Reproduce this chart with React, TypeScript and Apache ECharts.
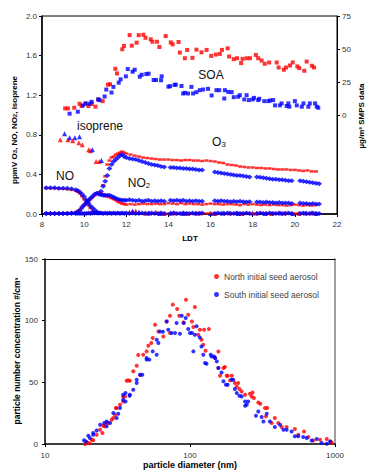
import { useEffect, useRef } from "react";
import * as echarts from "echarts";

const RED = "#FF0000";
const BLUE = "#0000FF";
const FONT = "'Liberation Sans', Arial, sans-serif";

// ---------- Top chart: SOA (right axis, µg/m3) ----------
const soaNorth: number[][] = [
  [9.10, 5.0], [9.23, 5.0], [9.53, 5.5], [9.78, 8.5], [9.88, 6.8], [10.07, 8.5], [10.20, 6.8], [10.37, 8.5], [10.54, 6.3],
  [10.67, 11.8], [10.88, 10.5], [11.13, 23], [11.23, 23.3], [11.48, 35], [11.56, 31.5], [11.81, 49.8], [11.89, 52.3],
  [12.16, 60.5], [12.26, 52.5], [12.49, 54.8], [12.59, 60.5], [12.81, 60.8], [12.91, 58.5], [13.16, 57.3], [13.24, 55.5],
  [13.46, 55.5], [13.57, 51.5], [13.87, 59.8], [14.11, 55], [14.2, 53.5], [14.48, 55.3], [14.54, 47.3], [14.78, 43],
  [14.89, 49.3], [15.14, 43.3], [15.33, 49.5], [15.57, 47.5], [15.81, 49.3], [16.03, 44.8], [16.25, 45.8], [16.44, 46.3],
  [16.54, 49.3], [16.81, 50.5], [16.88, 44.3], [17.1, 42.3], [17.26, 43], [17.45, 39.3], [17.52, 42.5], [17.71, 43],
  [17.87, 43], [18.15, 45.5], [18.26, 43], [18.42, 41.3], [18.57, 38.8], [18.78, 39.8], [19.14, 39.8], [19.23, 36],
  [19.48, 34.3], [19.58, 36], [19.77, 37.5], [19.9, 39.8], [20.12, 36.8], [20.21, 35.5], [20.45, 33.5], [20.56, 40.5],
  [20.81, 37.3], [20.91, 36],
];
const soaSouth: number[][] = [
  [9.31, 1.0], [9.70, 2.5], [9.94, 7.3], [10.07, 8.8], [10.26, 8.5], [10.35, 10], [10.67, 11.8], [10.73, 11.3], [10.97, 14],
  [11.05, 19.3], [11.30, 17], [11.39, 21.3], [11.64, 24.5], [11.73, 27], [11.98, 29.3], [12.07, 34.8], [12.30, 32.8],
  [12.40, 34.3], [12.64, 29], [12.73, 30.5], [12.95, 31], [13.06, 31.3], [13.30, 26.5], [13.41, 26.5], [13.65, 26.3],
  [13.68, 29.3], [14.0, 21.5], [14.08, 21.8], [14.29, 22.8], [14.35, 23], [14.62, 22], [14.70, 16.3], [14.78, 16.8],
  [14.93, 16.3], [15.09, 21.3], [15.17, 16.3], [15.33, 17.3], [15.49, 18.8], [15.65, 19.3], [15.88, 19.8], [16.05, 14.8],
  [16.28, 18.8], [16.41, 18.8], [16.65, 12.5], [16.68, 18.8], [16.84, 17.5], [17.0, 17.3], [17.1, 13.5], [17.31, 13.8],
  [17.39, 15], [17.6, 11.8], [17.71, 15], [17.82, 11.3], [18.0, 11.8], [18.06, 13], [18.26, 11.3], [18.31, 12.3],
  [18.55, 10.5], [18.74, 10.5], [18.83, 11], [18.97, 11.3], [19.06, 7.3], [19.29, 7.3], [19.37, 8.8], [19.61, 6.8],
  [19.69, 8.8], [19.74, 6.3], [20.0, 10.5], [20.09, 7.3], [20.33, 6.3], [20.41, 8.8], [20.64, 6.3], [20.71, 8.8],
  [20.96, 8.8], [21.04, 6.3], [21.11, 5.5],
];

// ---------- Top chart: isoprene (ppmV) ----------
const isopreneNorth: number[][] = [
  [8.87, 0.75], [9.23, 0.75], [9.46, 0.74], [9.75, 0.72], [9.91, 0.70], [10.22, 0.65], [10.3, 0.64], [10.57, 0.53], [10.72, 0.53],
  [12.15, 0.02], [12.45, 0.03], [12.9, 0.01], [13.4, 0.02], [13.8, 0.005], [14.3, 0.01], [14.9, 0.005], [15.5, 0.01],
  [16.2, 0.005], [16.9, 0.01], [17.5, 0.005], [18.2, 0.01], [18.9, 0.005], [19.5, 0.01], [20.2, 0.005], [20.8, 0.01],
];
const isopreneSouth: number[][] = [
  [9.07, 0.81], [9.31, 0.77], [9.56, 0.77], [9.78, 0.78], [10.39, 0.65], [10.82, 0.54],
  [12.3, 0.03], [12.6, 0.02], [13.1, 0.01], [13.6, 0.005], [14.1, 0.01], [14.7, 0.005], [15.3, 0.01], [16.0, 0.005],
  [16.6, 0.01], [17.3, 0.005], [18.0, 0.01], [18.6, 0.005], [19.3, 0.01], [19.9, 0.005], [20.5, 0.01], [21.0, 0.005],
];

// ---------- Top chart: O3 / NO / NO2, North (red) ----------
const timesNorth: number[] = [
  8.2, 8.4, 8.6, 8.8, 9.0, 9.2, 9.4, 9.6,
  9.7, 9.8, 9.9, 10.0, 10.1, 10.2, 10.3, 10.4, 10.5, 10.6, 10.7,
  10.8, 10.9, 11.0, 11.1, 11.2, 11.3, 11.4, 11.5, 11.6, 11.7, 11.8, 11.9, 12.0,
  12.2, 12.4, 12.6, 12.8, 13.0, 13.2, 13.4, 13.6, 13.8, 14.0, 14.2, 14.4, 14.6, 14.8, 15.0,
  15.2, 15.4, 15.6, 15.8, 16.0, 16.2, 16.4, 16.6, 16.8, 17.0, 17.2, 17.4, 17.6, 17.8, 18.0,
  18.2, 18.4, 18.6, 18.8, 19.0, 19.2, 19.4, 19.6, 19.8, 20.0, 20.2, 20.4, 20.6, 20.8, 21.0,
];
const o3North: number[] = [
  0.005, 0.005, 0.005, 0.005, 0.005, 0.005, 0.005, 0.005,
  0.005, 0.005, 0.005, 0.005, 0.005, 0.005, 0.01, 0.01, 0.01, 0.01, 0.01,
  0.2, 0.29, 0.38, 0.5, 0.54, 0.57, 0.58, 0.6, 0.61, 0.62, 0.63, 0.62, 0.61,
  0.6, 0.59, 0.58, 0.57, 0.565, 0.56, 0.555, 0.55, 0.55, 0.55, 0.545, 0.545, 0.54, 0.545, 0.545,
  0.54, 0.54, 0.535, 0.54, 0.535, 0.53, 0.52, 0.515, 0.5, 0.495, 0.49, 0.48, 0.475, 0.47, 0.47,
  0.465, 0.465, 0.46, 0.46, 0.455, 0.45, 0.45, 0.45, 0.445, 0.445, 0.44, 0.435, 0.44, 0.43, 0.43,
];
const noNorth: number[] = [
  0.26, 0.26, 0.26, 0.255, 0.255, 0.25, 0.245, 0.235,
  0.225, 0.21, 0.18, 0.15, 0.12, 0.09, 0.06, 0.03, 0.015, 0.01, 0.01,
  0.01, 0.01, 0.005, 0.01, 0.005, 0.01, 0.005, 0.01, 0.005, 0.01, 0.005, 0.01, 0.005,
  0.005, 0.01, 0.005, 0.005, 0.01, 0.005, 0.005, 0.01, 0.005, 0.005, 0.01, 0.005, 0.005, 0.01, 0.005,
  0.005, 0.01, 0.005, 0.005, 0.01, 0.005, 0.005, 0.01, 0.005, 0.005, 0.01, 0.005, 0.005, 0.01, 0.005,
  0.005, 0.01, 0.005, 0.005, 0.01, 0.005, 0.005, 0.01, 0.005, 0.005, 0.01, 0.005, 0.005, 0.01, 0.005,
];
const no2North: number[] = [
  0.005, 0.005, 0.005, 0.005, 0.005, 0.01, 0.01, 0.02,
  0.03, 0.04, 0.06, 0.09, 0.11, 0.13, 0.15, 0.17, 0.19, 0.21, 0.22,
  0.21, 0.2, 0.18, 0.18, 0.17, 0.16, 0.15, 0.14, 0.125, 0.115, 0.105, 0.1, 0.095,
  0.1, 0.095, 0.1, 0.105, 0.1, 0.1, 0.105, 0.1, 0.1, 0.11, 0.105, 0.1, 0.11, 0.1, 0.105,
  0.1, 0.1, 0.095, 0.1, 0.105, 0.1, 0.1, 0.095, 0.1, 0.1, 0.095, 0.09, 0.1, 0.095, 0.1,
  0.095, 0.09, 0.095, 0.09, 0.095, 0.09, 0.09, 0.085, 0.09, 0.095, 0.09, 0.085, 0.09, 0.085, 0.09,
];

// ---------- Top chart: O3 / NO / NO2, South (blue) ----------
const timesSouth: number[] = [
  8.2, 8.4, 8.6, 8.8, 9.0, 9.2, 9.4, 9.6,
  9.7, 9.8, 9.9, 10.0, 10.1, 10.2, 10.3, 10.4, 10.5, 10.6, 10.7,
  10.8, 10.9, 11.0, 11.1, 11.2, 11.3, 11.4, 11.5, 11.6, 11.7, 11.8, 11.9, 12.0,
  12.15, 12.3, 12.45, 12.6, 12.75, 12.9, 13.05, 13.2, 13.35, 13.5, 13.65, 13.8,
  14.1, 14.25, 14.4, 14.55, 14.7, 14.85, 15.0, 15.15, 15.3, 15.45, 15.6,
  16.2, 16.35, 16.5, 16.65, 16.8, 16.95, 17.1, 17.25, 17.4, 17.55, 17.7, 17.85,
  18.2, 18.35, 18.5, 18.65, 18.8, 18.95, 19.1, 19.25, 19.4, 19.55, 19.7, 19.85,
  20.25, 20.4, 20.55, 20.7, 20.85, 21.0, 21.15,
];
const o3South: number[] = [
  0.005, 0.005, 0.005, 0.005, 0.005, 0.005, 0.005, 0.005,
  0.005, 0.005, 0.005, 0.005, 0.005, 0.01, 0.005, 0.01, 0.01, 0.01, 0.01,
  0.23, 0.28, 0.33, 0.39, 0.46, 0.5, 0.53, 0.55, 0.57, 0.59, 0.6, 0.58, 0.57,
  0.56, 0.555, 0.55, 0.54, 0.53, 0.52, 0.51, 0.5, 0.495, 0.49, 0.48, 0.475,
  0.47, 0.47, 0.465, 0.465, 0.46, 0.46, 0.455, 0.455, 0.45, 0.445, 0.445,
  0.425, 0.42, 0.415, 0.41, 0.405, 0.4, 0.395, 0.39, 0.39, 0.385, 0.38, 0.375,
  0.375, 0.37, 0.365, 0.36, 0.355, 0.35, 0.35, 0.345, 0.345, 0.34, 0.335, 0.335,
  0.335, 0.33, 0.325, 0.32, 0.315, 0.31, 0.305,
];
const noSouth: number[] = [
  0.265, 0.265, 0.265, 0.26, 0.26, 0.26, 0.255, 0.245,
  0.235, 0.22, 0.2, 0.175, 0.14, 0.11, 0.08, 0.06, 0.04, 0.02, 0.01,
  0.01, 0.005, 0.01, 0.005, 0.01, 0.005, 0.01, 0.005, 0.01, 0.005, 0.01, 0.005, 0.01,
  0.005, 0.01, 0.005, 0.005, 0.01, 0.005, 0.005, 0.01, 0.005, 0.005, 0.01, 0.005,
  0.005, 0.01, 0.005, 0.005, 0.01, 0.005, 0.005, 0.01, 0.005, 0.005, 0.01,
  0.005, 0.01, 0.005, 0.005, 0.01, 0.005, 0.005, 0.01, 0.005, 0.005, 0.01, 0.005,
  0.005, 0.01, 0.005, 0.005, 0.01, 0.005, 0.005, 0.01, 0.005, 0.005, 0.01, 0.005,
  0.005, 0.01, 0.005, 0.005, 0.01, 0.005, 0.005,
];
const no2South: number[] = [
  0.005, 0.005, 0.005, 0.005, 0.005, 0.005, 0.01, 0.01,
  0.02, 0.04, 0.07, 0.09, 0.11, 0.14, 0.16, 0.18, 0.2, 0.21, 0.2,
  0.195, 0.19, 0.19, 0.19, 0.19, 0.18, 0.17, 0.16, 0.15, 0.145, 0.14, 0.14, 0.14,
  0.145, 0.14, 0.135, 0.14, 0.13, 0.135, 0.14, 0.13, 0.135, 0.13, 0.135, 0.13,
  0.14, 0.135, 0.14, 0.135, 0.14, 0.13, 0.135, 0.13, 0.135, 0.13, 0.13,
  0.135, 0.13, 0.135, 0.13, 0.13, 0.125, 0.13, 0.125, 0.13, 0.125, 0.12, 0.125,
  0.12, 0.12, 0.115, 0.12, 0.115, 0.115, 0.11, 0.115, 0.11, 0.11, 0.11, 0.105,
  0.11, 0.105, 0.105, 0.1, 0.105, 0.1, 0.1,
];

// ---------- Bottom chart: particle size distributions ----------
const northSizeDist: number[][] = [
  [18.9, 0], [19.6, 1], [20.3, 0.5], [21, 3.5], [21.5, 3], [22.7, 7.5], [24.0, 11.6], [24.9, 8.9], [25.2, 14.8], [25.8, 14.3],
  [26.6, 17], [27.3, 17], [28.8, 19.7], [29.6, 21.1], [30.4, 23.8], [30.8, 29.2], [31.2, 29.2], [32.9, 31.9], [34.6, 34.5],
  [34.6, 38.6], [35.6, 38.6], [36.6, 51.3], [37.5, 51.6], [38.5, 51.3], [40.6, 58.9], [42.9, 63.5], [43.9, 72.2], [45.5, 56],
  [47.6, 72.4], [50.2, 75.1], [51.6, 79.7], [54.1, 81.9], [55.3, 86], [57.4, 96.7], [60.5, 91.3], [65.5, 87.2], [69, 99.4],
  [72.8, 104], [72.8, 90], [76.1, 113], [81.6, 109.5], [84.3, 104], [90, 98.6], [93.8, 117], [97.3, 104.8], [103, 99.4],
  [105.5, 94.9], [108, 111], [114, 88.6], [117, 92.7], [120, 84.6], [123.5, 80.5], [125, 92.7], [128, 75.6], [135, 93.2],
  [149, 69.7], [157, 75], [157, 61.6], [161, 55.4], [170, 61.6], [174, 62.4], [179, 55.4], [182, 55.4], [189, 51.6],
  [194, 55.4], [204, 49.5], [210, 46.7], [215, 49.5], [219, 44.6], [227, 42.6], [240, 40], [259, 40.8], [266, 38.6],
  [270, 41.8], [276, 37.3], [296, 33.7], [305, 32.7], [329, 29.2], [334, 22.4], [341, 29.2], [366, 17], [385, 21.1],
  [406, 17], [429, 13.8], [464, 13.8], [529, 12.2], [558, 7.5], [611, 10.2], [654, 5.7], [708, 2.9], [788, 3.5],
  [877, 4.1], [934, 2.1], [950, 0.8],
];
const southSizeDist: number[][] = [
  [18.6, 3], [19.2, 2], [19.9, 6.7], [20.4, 4.9], [21.5, 7.5], [21.5, 8.9], [22.7, 11], [24.0, 15.6], [25.6, 17],
  [26.6, 18.3], [26.6, 14.3], [28.1, 17], [29.6, 25.1], [31.2, 21.1], [32, 24.6], [32.9, 29.2], [34.6, 35.9], [34.6, 40],
  [35.9, 34.5], [35.9, 41.4], [38.3, 39.2], [38.5, 40], [40.6, 44], [42.9, 49.5], [42.9, 52.1], [45.2, 56.2], [46.9, 56.2],
  [50.2, 68.4], [50.2, 69.7], [52.4, 68.4], [55.3, 75.1], [58.9, 72.4], [58.9, 84.6], [60.5, 81.9], [62.1, 91.3], [65, 91],
  [69, 99.4], [70.8, 92.7], [74.6, 90], [78.9, 90], [80.8, 98.1], [85.2, 89.4], [87.7, 104], [90.7, 98.1], [93.4, 102.2],
  [97.3, 93.2], [100, 90], [103, 90], [105.5, 75.1], [108, 88.6], [111, 95.4], [117, 86.4], [120, 79.1], [123.5, 72.4],
  [127, 65.7], [130, 65.1], [139, 72.4], [141, 71], [146.5, 71], [149, 69.7], [153, 67], [157, 61.6], [165, 58],
  [170, 50.8], [177, 48.1], [182, 48.1], [194, 52.1], [199, 52.1], [204, 44.6], [210, 41.4], [219, 39.2], [227, 38.6],
  [240, 34.5], [240, 31], [246, 31.9], [252, 34.5], [285, 22.9], [296, 26.4], [312, 21.9], [321, 18.3], [338, 24.6],
  [356, 18.3], [385, 13.8], [418, 15.6], [441, 11.6], [464, 11.6], [502, 10.2], [529, 6.2], [558, 6.2], [604, 5.7],
  [638, 4.9], [690, 2.9], [748, 4.1], [809, 0.8], [877, 0.2], [925, 2.1],
];

const legendNames = ["North initial seed aerosol", "South initial seed aerosol"];

const pair = (t: number[], v: number[]) => t.map((x, i) => [x, v[i]]);

const tickFont = { fontSize: 8, color: "#333", fontFamily: FONT };

export default function App() {
  const ref = useRef<HTMLDivElement>(null);
  useEffect(() => {
    if (!ref.current) return;
    const chart = echarts.init(ref.current, undefined, { renderer: "svg" });

    const redDash = { symbol: "rect", symbolSize: [4, 2.5], itemStyle: { color: RED } };
    const blueDia = { symbol: "diamond", symbolSize: [6, 5], itemStyle: { color: BLUE } };

    const bold8 = { fontSize: 8, fontWeight: "bold", fontFamily: FONT, fill: "#000" };
    const sub6 = { fontSize: 6, fontWeight: "bold", fontFamily: FONT, fill: "#000", verticalAlign: "bottom" };
    const lab12 = { fontSize: 12, fontFamily: FONT, fill: "#111" };
    const sub8 = { fontSize: 8, fontFamily: FONT, fill: "#111", verticalAlign: "bottom" };

    const option: any = {
      animation: false,
      backgroundColor: "#fff",
      textStyle: { fontFamily: FONT },
      grid: [
        { left: 42, top: 16, width: 295, height: 198, show: true, borderColor: "#000", borderWidth: 1 },
        { left: 45, top: 259, width: 290, height: 185 },
      ],
      legend: {
        data: legendNames,
        left: 214,
        top: 272,
        orient: "vertical",
        itemGap: 9,
        itemWidth: 5,
        itemHeight: 5,
        icon: "circle",
        padding: 0,
        textStyle: { fontSize: 8.5, color: "#444", fontFamily: FONT },
      },
      xAxis: [
        {
          gridIndex: 0, type: "value", min: 8, max: 22, interval: 2,
          axisLine: { onZero: false, lineStyle: { color: "#000", width: 1.5 } },
          axisTick: { length: 3, lineStyle: { color: "#000" } },
          axisLabel: { ...tickFont, margin: 6 },
          splitLine: { show: false },
        },
        {
          gridIndex: 1, type: "log", logBase: 10, min: 10, max: 1000,
          axisLine: { onZero: false, lineStyle: { color: "#000", width: 1.5 } },
          axisTick: { length: 3, lineStyle: { color: "#000" } },
          minorTick: { show: false },
          axisLabel: { ...tickFont, margin: 7, formatter: (v: number) => String(Math.round(v)) },
          splitLine: { show: false },
        },
        {
          gridIndex: 1, type: "log", logBase: 10, min: 10, max: 1000, position: "top",
          axisLine: { onZero: false, lineStyle: { color: "#000", width: 1 } },
          axisTick: { show: false }, axisLabel: { show: false }, splitLine: { show: false },
        },
      ],
      yAxis: [
        {
          gridIndex: 0, type: "value", min: 0, max: 2, interval: 0.4,
          axisLine: { onZero: false, lineStyle: { color: "#000", width: 1.5 } },
          axisTick: { length: 3, lineStyle: { color: "#000" } },
          axisLabel: { ...tickFont, margin: 5, formatter: (v: number) => v.toFixed(1) },
          splitLine: { show: false },
        },
        {
          gridIndex: 0, type: "value", min: -75, max: 75, interval: 25, position: "right",
          axisLine: { onZero: false, lineStyle: { color: "#000", width: 1 } },
          axisTick: { length: 3, lineStyle: { color: "#000" }, customValues: [0, 25, 50, 75] },
          axisLabel: { ...tickFont, margin: 5, customValues: [0, 25, 50, 75], formatter: (v: number) => (v < 0 ? "" : String(v)) },
          splitLine: { show: false },
        },
        {
          gridIndex: 1, type: "value", min: 0, max: 150, interval: 50,
          axisLine: { onZero: false, lineStyle: { color: "#000", width: 1.5 } },
          axisTick: { length: 3, lineStyle: { color: "#000" } },
          axisLabel: { ...tickFont, margin: 7 },
          splitLine: { show: false },
        },
        {
          gridIndex: 1, type: "value", min: 0, max: 150, interval: 50, position: "right",
          axisLine: { onZero: false, lineStyle: { color: "#808080", width: 1.5 } },
          axisTick: { show: false }, axisLabel: { show: false }, splitLine: { show: false },
        },
      ],
      series: [
        { name: "SOA North", type: "scatter", xAxisIndex: 0, yAxisIndex: 1, symbol: "rect", symbolSize: 4, itemStyle: { color: RED }, data: soaNorth },
        { name: "SOA South", type: "scatter", xAxisIndex: 0, yAxisIndex: 1, symbol: "rect", symbolSize: 4, itemStyle: { color: BLUE }, data: soaSouth },
        { name: "Isoprene North", type: "scatter", xAxisIndex: 0, yAxisIndex: 0, symbol: "triangle", symbolSize: 5, itemStyle: { color: RED }, data: isopreneNorth },
        { name: "Isoprene South", type: "scatter", xAxisIndex: 0, yAxisIndex: 0, symbol: "triangle", symbolSize: 5, itemStyle: { color: BLUE }, data: isopreneSouth },
        { name: "O3 North", type: "scatter", xAxisIndex: 0, yAxisIndex: 0, ...redDash, data: pair(timesNorth, o3North) },
        { name: "NO North", type: "scatter", xAxisIndex: 0, yAxisIndex: 0, ...redDash, data: pair(timesNorth, noNorth) },
        { name: "NO2 North", type: "scatter", xAxisIndex: 0, yAxisIndex: 0, ...redDash, data: pair(timesNorth, no2North) },
        { name: "O3 South", type: "scatter", xAxisIndex: 0, yAxisIndex: 0, ...blueDia, data: pair(timesSouth, o3South) },
        { name: "NO South", type: "scatter", xAxisIndex: 0, yAxisIndex: 0, ...blueDia, data: pair(timesSouth, noSouth) },
        { name: "NO2 South", type: "scatter", xAxisIndex: 0, yAxisIndex: 0, ...blueDia, data: pair(timesSouth, no2South) },
        { name: legendNames[0], type: "scatter", xAxisIndex: 1, yAxisIndex: 2, symbol: "circle", symbolSize: 4, itemStyle: { color: RED }, data: northSizeDist },
        { name: legendNames[1], type: "scatter", xAxisIndex: 1, yAxisIndex: 2, symbol: "circle", symbolSize: 4, itemStyle: { color: BLUE }, data: southSizeDist },
      ],
      graphic: [
        { type: "text", x: 211, y: 75, style: { text: "SOA", ...lab12, align: "center", verticalAlign: "middle" } },
        { type: "text", x: 100, y: 126, style: { text: "isoprene", ...lab12, align: "center", verticalAlign: "middle" } },
        { type: "text", x: 219, y: 142, style: { text: "{a|O}{s|3}", rich: { a: lab12, s: sub8 }, align: "center", verticalAlign: "middle" } },
        { type: "text", x: 65, y: 176, style: { text: "NO", ...lab12, align: "center", verticalAlign: "middle" } },
        { type: "text", x: 139, y: 183, style: { text: "{a|NO}{s|2}", rich: { a: lab12, s: sub8 }, align: "center", verticalAlign: "middle" } },
        { type: "text", x: 190, y: 238, style: { text: "LDT", ...bold8, align: "center", verticalAlign: "middle" } },
        {
          type: "text", x: 14, y: 130, rotation: Math.PI / 2,
          style: { text: "{a|ppmV O}{s|3}{a|, NO, NO}{s|2}{a|, Isoprene}", rich: { a: bold8, s: sub6 }, align: "center", verticalAlign: "middle" },
        },
        { type: "text", x: 361, y: 116, rotation: Math.PI / 2, style: { text: "µg/m³ SMPS data", ...bold8, align: "center", verticalAlign: "middle" } },
        { type: "text", x: 190, y: 465, style: { text: "particle diameter (nm)", ...bold8, fontSize: 9, align: "center", verticalAlign: "middle" } },
        { type: "text", x: 17, y: 351, rotation: Math.PI / 2, style: { text: "particle number concentration #/cm³", ...bold8, fontSize: 8.5, align: "center", verticalAlign: "middle" } },
      ],
    };
    chart.setOption(option);
    return () => chart.dispose();
  }, []);
  return (
    <div
      ref={ref}
      style={{ position: "absolute", left: 0, top: 0, width: 371, height: 470, background: "#fff" }}
    />
  );
}
